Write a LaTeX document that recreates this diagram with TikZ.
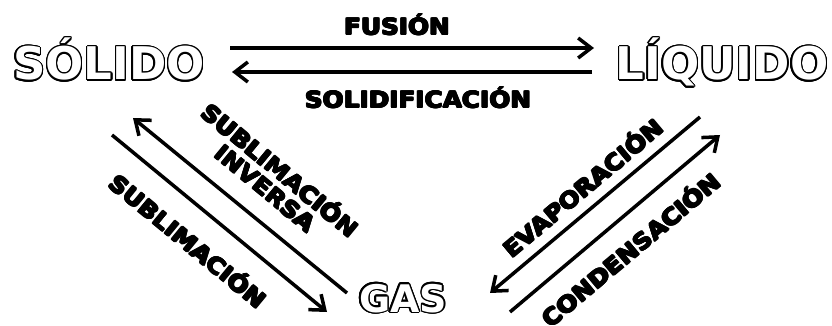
\documentclass[tikz,border=0pt]{standalone}
\usepackage{fontspec}
\usetikzlibrary{arrows.meta}
\newfontfamily\lblfont{DejaVu Sans}[FakeStretch=1.1]
\newfontfamily\bigfont{DejaVu Sans}
\newlength\olw \setlength\olw{1.4pt}
\newlength\fatw \setlength\fatw{0.75pt}
\newcommand\outl[1]{%
  \foreach \a in {0,20,...,340}{%
    \pgfmathsetlengthmacro\dx{\olw*cos(\a)}%
    \pgfmathsetlengthmacro\dy{\olw*sin(\a)}%
    \rlap{\hspace*{\dx}\raisebox{\dy}{\color{black}#1}}}%
  {\color{white}#1}}
\newcommand\fat[1]{%
  \foreach \a in {0,45,...,315}{%
    \pgfmathsetlengthmacro\dx{\fatw*cos(\a)}%
    \pgfmathsetlengthmacro\dy{\fatw*sin(\a)}%
    \rlap{\hspace*{\dx}\raisebox{\dy}{#1}}}%
  #1}
\tikzset{
  state/.style={font=\bigfont\bfseries\fontsize{45}{54}\selectfont, inner sep=0pt, anchor=base},
  lbl/.style={font=\lblfont\bfseries\fontsize{22.5}{23}\selectfont, inner sep=0pt, align=center},
  arr/.style={line width=3.5pt, -{Straight Barb[length=13pt,width=20pt,line width=3.5pt]}},
}
\begin{document}
\begin{tikzpicture}[x=1pt,y=-1pt]
\useasboundingbox (0,0) rectangle (832,326);
\node[state] (sol) at (109,80) {\outl{SÓLIDO}};
\node[state] (liq) at (722,80) {\outl{LÍQUIDO}};
\node[state,font=\bigfont\bfseries\fontsize{38}{44}\selectfont] (gas) at (403,312) {\outl{GAS}};
% horizontal arrows
\coordinate (f1) at (230,48); \coordinate (f2) at (594,48);
\coordinate (s1) at (592,72); \coordinate (s2) at (232,72);
\draw[arr] (f1) -- (f2);
\draw[arr] (s1) -- (s2);
\node[lbl,anchor=base] (lfus) at (397,35) {\fat{FUSIÓN}};
\node[lbl,anchor=base] (lsol) at (418,108) {\fat{SOLIDIFICACIÓN}};
% left diagonal arrows
\coordinate (a1) at (347,293); \coordinate (a2) at (133,118);
\coordinate (b1) at (112,135); \coordinate (b2) at (327,312);
\draw[arr] (a1) -- (a2);
\draw[arr] (b1) -- (b2);
\node[lbl,rotate=-39.5] (linv) at (274,178) {\fat{SUBLIMACIÓN}\\\fat{INVERSA}};
\node[lbl,rotate=-39.5] (lsub) at (189,240) {\fat{SUBLIMACIÓN}};
% right diagonal arrows
\coordinate (c1) at (700,117); \coordinate (c2) at (490,293);
\coordinate (d1) at (510,312); \coordinate (d2) at (720,135);
\draw[arr] (c1) -- (c2);
\draw[arr] (d1) -- (d2);
\node[lbl,rotate=40] (leva) at (582,187) {\fat{EVAPORACIÓN}};
\node[lbl,rotate=40] (lcon) at (630,249) {\fat{CONDENSACIÓN}};
\end{tikzpicture}
\end{document}
